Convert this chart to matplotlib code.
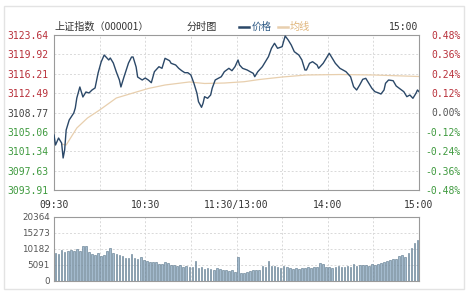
import matplotlib
matplotlib.use("Agg")
import matplotlib.pyplot as plt
from matplotlib.lines import Line2D
from matplotlib.patches import Rectangle

# ---------------- data ----------------
price_minutes = [0, 1, 3, 5, 6, 7, 8, 10, 13, 14, 15, 17, 19, 21, 23, 25, 27, 29, 31, 33,
                 36, 37, 39, 41, 43, 44, 46, 49, 51, 52, 54, 55, 58, 60, 62, 64, 66, 69, 71, 73,
                 76, 77, 80, 82, 84, 86, 88, 90, 92, 94, 95, 97, 98, 99, 101, 103, 104, 106, 108, 110,
                 112, 115, 117, 119, 121, 122, 124, 127, 129, 131, 132, 134, 137, 139, 141, 143, 145, 147, 150, 152,
                 154, 156, 158, 161, 163, 165, 166, 168, 170, 173, 174, 177, 179, 181, 183, 185, 188, 190, 192, 195,
                 197, 199, 201, 203, 205, 207, 209, 211, 213, 215, 217, 218, 220, 223, 225, 227, 230, 232, 234, 236,
                 238, 239, 240]
price_values = [3104.46, 3102.54, 3103.88, 3102.92, 3100.05, 3101.58, 3105.42, 3107.34, 3108.68, 3109.64,
                3111.56, 3113.67, 3111.75, 3112.71, 3112.52, 3113.09, 3113.48, 3116.35, 3118.46, 3119.80,
                3118.85, 3119.23, 3118.27, 3116.54, 3115.01, 3113.67, 3115.58, 3118.27, 3119.42, 3119.42,
                3117.50, 3115.58, 3115.01, 3115.39, 3115.01, 3114.49, 3116.60, 3117.56, 3117.25, 3119.17,
                3118.71, 3118.21, 3117.89, 3117.25, 3116.79, 3116.41, 3116.41, 3115.97, 3114.38, 3112.46,
                3110.85, 3109.77, 3110.54, 3111.81, 3111.50, 3112.13, 3113.42, 3115.01, 3115.33, 3115.64,
                3116.60, 3117.25, 3116.79, 3117.56, 3118.85, 3117.89, 3117.25, 3116.93, 3116.60, 3116.29,
                3115.64, 3116.60, 3117.56, 3118.52, 3119.48, 3121.09, 3122.05, 3121.09, 3121.40, 3123.45,
                3122.68, 3121.72, 3120.44, 3119.80, 3118.85, 3116.93, 3116.93, 3118.21, 3118.52, 3117.89,
                3117.25, 3118.21, 3119.17, 3120.13, 3119.17, 3118.21, 3117.25, 3116.93, 3116.60, 3115.64,
                3113.72, 3113.09, 3114.05, 3115.14, 3115.33, 3114.38, 3113.42, 3112.77, 3112.57, 3112.32,
                3113.09, 3114.38, 3115.01, 3114.87, 3113.86, 3113.42, 3112.77, 3111.81, 3112.13, 3111.50,
                3112.46, 3113.09, 3112.77]

avg_minutes = [5, 8, 15, 22, 30, 41, 52, 62, 73, 89, 99, 112, 125, 135, 150, 166, 188, 210, 240]
avg_values = [3102.70, 3102.54, 3105.80, 3107.72, 3109.25, 3111.56, 3112.52, 3113.38, 3114.05, 3114.63,
              3114.34, 3114.43, 3114.68, 3115.10, 3115.58, 3115.97, 3116.06, 3115.97, 3115.68]

volume_values = [8900, 8500, 10000, 9200, 9500, 9900, 9400, 10200, 9700, 11000, 11200, 9300,
                 8600, 8200, 8900, 7800, 8300, 9400, 10600, 8800, 8600, 8300, 7900, 7400,
                 7300, 8600, 7200, 6900, 7600, 6800, 6400, 6200, 5900, 6100, 5500, 5300,
                 6100, 5600, 5200, 5000, 4700, 5100, 4600, 4900, 4500, 4400, 6500, 4200,
                 4400, 3900, 4200, 3800, 3600, 4000, 3700, 3400, 3500, 3300, 3600, 2900,
                 7600, 2500, 2700, 2900, 3100, 3400, 3600, 3500, 4800, 4400, 6400, 4900,
                 4700, 4300, 4100, 4800, 4300, 4000, 3900, 4200, 3800, 4100, 4000, 4300,
                 4200, 4600, 4400, 5800, 5300, 4500, 4300, 4200, 4600, 4800, 4400, 4500,
                 4900, 4600, 5300, 4800, 5000, 5200, 5100, 4900, 5300, 5200, 5500, 5800,
                 6000, 6400, 6800, 7100, 6900, 7800, 8300, 7700, 9000, 10400, 12000, 13000]
volume_minutes = [1 + 2 * i for i in range(len(volume_values))]

price_ticks = [3093.91, 3097.63, 3101.34, 3105.06, 3108.77, 3112.49, 3116.21, 3119.92, 3123.64]
pct_ticks = [-0.48, -0.36, -0.24, -0.12, 0.00, 0.12, 0.24, 0.36, 0.48]
pct_labels = ["-0.48%", "-0.36%", "-0.24%", "-0.12%", "0.00%", "0.12%", "0.24%", "0.36%", "0.48%"]
vol_ticks = [0, 5091, 10182, 15273, 20364]
time_ticks = [0, 60, 120, 180, 240]
time_labels = ["09:30", "10:30", "11:30/13:00", "14:00", "15:00"]

# ---------------- figure ----------------
W, H = 474, 291
fig = plt.figure(figsize=(W / 100, H / 100), dpi=100)
fig.patch.set_facecolor("white")

def fx(x):
    return x / W

def fy(y):
    return 1 - y / H

# outer frame
fig.add_artist(Rectangle((fx(4), fy(289)), fx(464) - fx(4), fy(6) - fy(289),
                         transform=fig.transFigure, fill=False, edgecolor="#e3e3e3", lw=1))

RED = "#b8303a"
GREEN = "#3f9a3f"
GRID = "#d9d9d9"
SPINE = "#9a9a9a"
PRICE_C = "#2b4868"
AVG_C = "#e8cfae"
mono = "DejaVu Sans Mono"

ax = fig.add_axes([fx(54), fy(190), fx(419) - fx(54), fy(35) - fy(190)])
ax.plot(avg_minutes, avg_values, color=AVG_C, lw=0.9, zorder=2)
ax.plot(price_minutes, price_values, color=PRICE_C, lw=1.0, zorder=3)
ax.set_xlim(0, 240)
ax.set_ylim(price_ticks[0], price_ticks[-1])
ax.set_xticks([30 * i for i in range(9)])
ax.set_xticklabels([])
ax.set_yticks(price_ticks)
ax.set_yticklabels([f"{v:.2f}" for v in price_ticks], fontfamily=mono, fontsize=7)
for lbl, v in zip(ax.get_yticklabels(), price_ticks):
    if v > 3108.77 + 0.001:
        lbl.set_color(RED)
    elif v < 3108.77 - 0.001:
        lbl.set_color(GREEN)
    else:
        lbl.set_color("#444444")
ax.tick_params(axis="both", length=0, pad=4)
ax.grid(True, color=GRID, ls=(0, (2, 2)), lw=0.7)
for s in ax.spines.values():
    s.set_color(SPINE)
    s.set_linewidth(0.8)

# x labels between panels
for t, lab in zip(time_ticks, time_labels):
    fig.text(fx(54 + t * 365 / 240), fy(205), lab, ha="center", va="center",
             fontfamily=mono, fontsize=7, color="#333333")

ax2 = ax.twinx()
ax2.set_ylim(pct_ticks[0], pct_ticks[-1])
ax2.set_yticks(pct_ticks)
ax2.set_yticklabels(pct_labels, fontfamily=mono, fontsize=7)
for lbl, v in zip(ax2.get_yticklabels(), pct_ticks):
    lbl.set_color(RED if v > 0 else (GREEN if v < 0 else "#555555"))
    lbl.set_horizontalalignment("right")
ax2.tick_params(axis="y", length=0, pad=30)
for s in ax2.spines.values():
    s.set_visible(False)

# header texts
cjk = ["Noto Sans CJK SC", "DejaVu Sans"]
fig.text(fx(54), fy(27), "上证指数（000001）", ha="left", va="center", family=cjk,
         fontsize=7.3, color="#333333")
fig.text(fx(187), fy(27), "分时图", ha="left", va="center", family=cjk,
         fontsize=7.3, color="#333333")
fig.add_artist(Line2D([fx(239), fx(249)], [fy(27), fy(27)], transform=fig.transFigure,
                      color=PRICE_C, lw=1.8))
fig.text(fx(252), fy(27), "价格", ha="left", va="center", family=cjk,
         fontsize=7.3, color="#2f5a85")
fig.add_artist(Line2D([fx(278), fx(288)], [fy(27), fy(27)], transform=fig.transFigure,
                      color=AVG_C, lw=1.8))
fig.text(fx(290), fy(27), "均线", ha="left", va="center", family=cjk,
         fontsize=7.3, color="#e0b77e")
fig.text(fx(418), fy(27), "15:00", ha="right", va="center", fontfamily=mono,
         fontsize=7, color="#333333")

# volume panel
axv = fig.add_axes([fx(54), fy(281), fx(419) - fx(54), fy(217) - fy(281)])
axv.bar(volume_minutes, volume_values, width=1.1, color="#a3bacd", edgecolor="#587489",
        linewidth=0.4, zorder=3)
axv.set_xlim(0, 240)
axv.set_ylim(0, vol_ticks[-1])
axv.set_xticks([30 * i for i in range(9)])
axv.set_xticklabels([])
axv.set_yticks(vol_ticks)
axv.set_yticklabels([str(v) for v in vol_ticks], fontsize=6.3, color="#555555")
axv.tick_params(axis="both", length=0, pad=3)
axv.grid(True, color=GRID, ls=(0, (2, 2)), lw=0.7, zorder=0)
for s in axv.spines.values():
    s.set_color(SPINE)
    s.set_linewidth(0.8)

fig.savefig("out.png", dpi=100)
